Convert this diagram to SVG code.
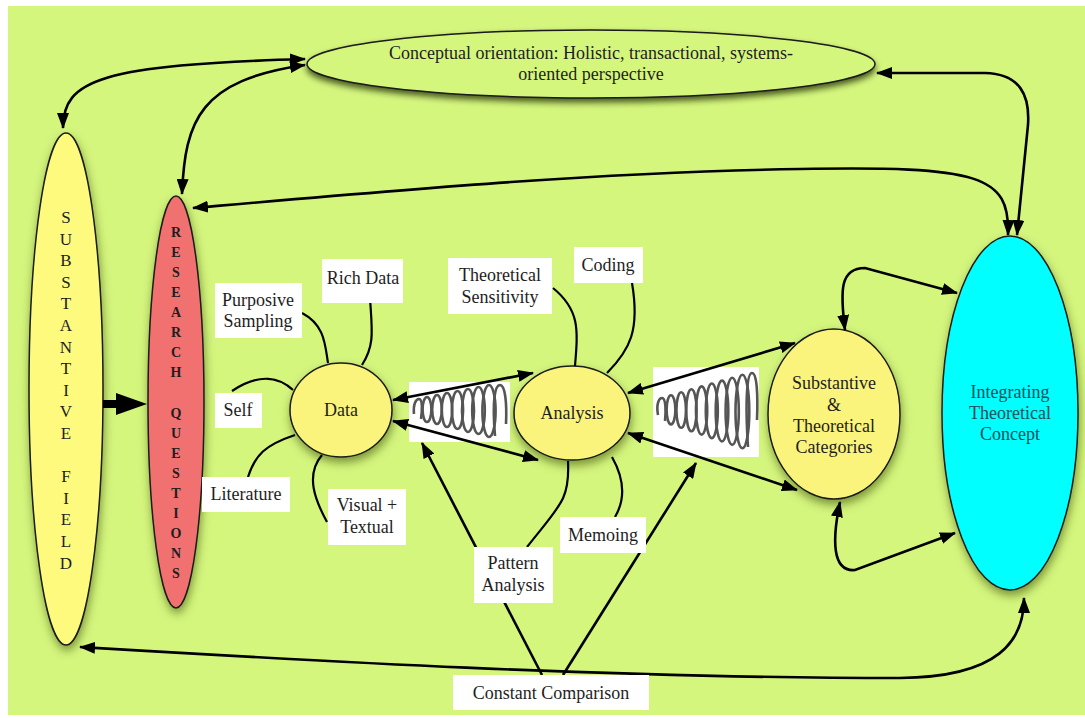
<svg xmlns="http://www.w3.org/2000/svg" width="1085" height="718" viewBox="0 0 1085 718">
  <defs>
    <style>
      .t { font-family: "Liberation Serif", "Times New Roman", serif; font-size: 18px; fill: #1e1e1e; text-anchor: middle; }
      .lbl { fill: #ffffff; stroke: none; }
      .node { stroke: #1a1a1a; stroke-width: 1.5; }
      .yel { fill: #fbf47b; }
      .con { fill: none; stroke: #000; stroke-width: 2.6; }
      .bi { marker-start: url(#ah); marker-end: url(#ah); }
      .one { marker-end: url(#ah); }
      .tie { fill: none; stroke: #000; stroke-width: 2.2; }
      .coil { fill: none; stroke: #555; stroke-width: 2.6; }
    </style>
    <marker id="ah" viewBox="0 0 16 12" refX="15" refY="6" markerWidth="16" markerHeight="12" markerUnits="userSpaceOnUse" orient="auto-start-reverse">
      <path d="M0,0 L16,6 L0,12 z" fill="#000"/>
    </marker>
    <filter id="sh" x="-30%" y="-30%" width="160%" height="170%">
      <feDropShadow dx="1" dy="5" stdDeviation="5" flood-color="#2e4400" flood-opacity="0.55"/>
    </filter>
    <filter id="shTop" x="-10%" y="-40%" width="120%" height="200%">
      <feDropShadow dx="0" dy="4" stdDeviation="3" flood-color="#1e2c00" flood-opacity="0.75"/>
    </filter>
  </defs>

  <!-- backdrop -->
  <rect x="0" y="0" width="1085" height="718" fill="#ffffff"/>
  <rect x="8" y="6" width="1077" height="709" fill="#d5f67d"/>

  <g font-family="'Liberation Serif', 'Times New Roman', serif">

  <!-- top orientation ellipse -->
  <g id="orientation">
    <ellipse cx="591" cy="64" rx="284" ry="34" fill="#d5f67d" class="node" filter="url(#shTop)"/>
    <text class="t" x="591" y="59">Conceptual orientation: Holistic, transactional, systems-</text>
    <text class="t" x="591" y="80">oriented perspective</text>
  </g>

  <!-- substantive field -->
  <g id="substantive-field">
    <ellipse cx="66" cy="389" rx="37" ry="256" fill="#fdfa7e" class="node" filter="url(#sh)"/>
    <text class="t" style="font-size:17px">
      <tspan x="66" y="223">S</tspan><tspan x="66" y="244.6">U</tspan><tspan x="66" y="266.2">B</tspan><tspan x="66" y="287.8">S</tspan><tspan x="66" y="309.4">T</tspan><tspan x="66" y="331">A</tspan><tspan x="66" y="352.6">N</tspan><tspan x="66" y="374.2">T</tspan><tspan x="66" y="395.8">I</tspan><tspan x="66" y="417.4">V</tspan><tspan x="66" y="439">E</tspan><tspan x="66" y="482.2">F</tspan><tspan x="66" y="503.8">I</tspan><tspan x="66" y="525.4">E</tspan><tspan x="66" y="547">L</tspan><tspan x="66" y="568.6">D</tspan>
    </text>
  </g>

  <!-- research questions -->
  <g id="research-questions">
    <ellipse cx="176" cy="402" rx="28" ry="206" fill="#f07170" class="node" filter="url(#sh)"/>
    <text class="t" style="font-size:14px;font-weight:bold">
      <tspan x="176" y="237">R</tspan><tspan x="176" y="257">E</tspan><tspan x="176" y="277">S</tspan><tspan x="176" y="297">E</tspan><tspan x="176" y="317">A</tspan><tspan x="176" y="337">R</tspan><tspan x="176" y="357">C</tspan><tspan x="176" y="377">H</tspan><tspan x="176" y="418">Q</tspan><tspan x="176" y="438">U</tspan><tspan x="176" y="458">E</tspan><tspan x="176" y="478">S</tspan><tspan x="176" y="498">T</tspan><tspan x="176" y="518">I</tspan><tspan x="176" y="538">O</tspan><tspan x="176" y="558">N</tspan><tspan x="176" y="578">S</tspan>
    </text>
  </g>

  <!-- data -->
  <g id="data">
    <ellipse cx="341" cy="410" rx="51" ry="47" class="node yel" filter="url(#sh)"/>
    <text class="t" x="341" y="416">Data</text>
  </g>

  <!-- analysis -->
  <g id="analysis">
    <ellipse cx="572" cy="413" rx="58" ry="47" class="node yel" filter="url(#sh)"/>
    <text class="t" x="572" y="419">Analysis</text>
  </g>

  <!-- substantive and theoretical categories -->
  <g id="categories">
    <ellipse cx="834" cy="414" rx="66" ry="85" class="node yel" filter="url(#sh)"/>
    <text class="t" x="834" y="389">Substantive</text>
    <text class="t" x="834" y="411">&amp;</text>
    <text class="t" x="834" y="432">Theoretical</text>
    <text class="t" x="834" y="453">Categories</text>
  </g>

  <!-- integrating theoretical concept -->
  <g id="integrating-concept">
    <ellipse cx="1010" cy="413" rx="68" ry="177" fill="#00ffff" class="node" filter="url(#sh)"/>
    <text class="t" x="1010" y="398" style="fill:#1b4d58">Integrating</text>
    <text class="t" x="1010" y="419" style="fill:#1b4d58">Theoretical</text>
    <text class="t" x="1010" y="440" style="fill:#1b4d58">Concept</text>
  </g>

  <!-- spiral between data and analysis -->
  <g id="spiral-left">
    <rect x="409" y="382" width="101" height="60" fill="#ffffff"/>
    <path class="coil" d="M414,414 C413,404 416,399 419,399 C423,399 422,412 421,419"/>
    <ellipse class="coil" cx="427" cy="409.5" rx="4.4" ry="12.5"/>
    <ellipse class="coil" cx="437" cy="409.5" rx="4.8" ry="14.5"/>
    <ellipse class="coil" cx="447" cy="410" rx="5.2" ry="17"/>
    <ellipse class="coil" cx="457.5" cy="410" rx="5.6" ry="19"/>
    <ellipse class="coil" cx="468" cy="410.5" rx="6" ry="21.5"/>
    <ellipse class="coil" cx="478.5" cy="410.5" rx="6.3" ry="23.5"/>
    <ellipse class="coil" cx="489" cy="411" rx="6.6" ry="26"/>
    <path class="coil" d="M495,436 C492,400 495,385 500,385 C505,385 507,402 506,424"/>
  </g>

  <!-- spiral between analysis and categories -->
  <g id="spiral-right">
    <rect x="653" y="367" width="106" height="90" fill="#ffffff"/>
    <path class="coil" d="M658,415 C656,404 659,398 662,398 C666,398 666,412 665,421"/>
    <ellipse class="coil" cx="671" cy="409.8" rx="4.4" ry="14.6"/>
    <ellipse class="coil" cx="681.2" cy="410" rx="4.8" ry="17.8"/>
    <ellipse class="coil" cx="691.4" cy="410.3" rx="5.2" ry="21"/>
    <ellipse class="coil" cx="701.6" cy="410.5" rx="5.6" ry="24.1"/>
    <ellipse class="coil" cx="711.8" cy="410.8" rx="6" ry="27.3"/>
    <ellipse class="coil" cx="722" cy="411" rx="6.3" ry="30.4"/>
    <ellipse class="coil" cx="732.2" cy="411.3" rx="6.6" ry="33.6"/>
    <ellipse class="coil" cx="742.4" cy="411.5" rx="6.9" ry="36.7"/>
    <path class="coil" d="M748,447 C745,400 747,373 752,373 C757,373 758,395 757,420"/>
  </g>

  <!-- connectors -->
  <g id="connectors">
    <path class="con bi" d="M63,128 C63,80 100,65 305,59"/>
    <path class="con bi" d="M182,194 C185,120 200,80 305,65"/>
    <path class="con bi" d="M193,208 C400,190 600,172 800,169 C980,166 1010,175 1008,235"/>
    <path class="con bi" d="M877,73 L985,73 C1020,74 1030,95 1028,125 L1017,235"/>
    <path class="con bi" d="M393,400 L533,373"/>
    <path class="con bi" d="M393,421 L538,460"/>
    <path class="con bi" d="M628,393 L795,343"/>
    <path class="con bi" d="M628,433 L797,490"/>
    <path class="con bi" d="M845,330 C840,290 840,268 865,268 L957,293"/>
    <path class="con bi" d="M840,502 C832,540 832,572 855,570 L955,533"/>
    <path class="con bi" d="M80,647 C300,660 600,678 900,678 C1000,677 1024,640 1024,598"/>
    <path class="con one" d="M542,675 L422,443"/>
    <path class="con one" d="M563,675 L696,463"/>
    <path d="M103,400 L116,400 L116,393 L147,404 L116,415 L116,408 L103,408 z" fill="#000"/>
    <!-- ties from the circles to their labels -->
    <path class="tie" d="M302,313 C325,325 325,345 328,363"/>
    <path class="tie" d="M370,298 C372,330 375,345 362,365"/>
    <path class="tie" d="M293,390 C280,378 260,372 232,391"/>
    <path class="tie" d="M295,435 C265,445 255,455 248,477"/>
    <path class="tie" d="M322,455 C305,475 315,500 327,522"/>
    <path class="tie" d="M553,288 C580,310 578,330 575,366"/>
    <path class="tie" d="M632,283 C640,330 630,350 607,373"/>
    <path class="tie" d="M568,461 C570,500 560,505 527,547"/>
    <path class="tie" d="M612,457 C625,480 625,500 615,517"/>
  </g>

  <!-- labels -->
  <g id="purposive-sampling">
    <rect class="lbl" x="215" y="283" width="87" height="55"/>
    <text class="t" x="258" y="306">Purposive</text>
    <text class="t" x="258" y="327">Sampling</text>
  </g>
  <g id="rich-data">
    <rect class="lbl" x="322" y="259" width="81" height="44"/>
    <text class="t" x="363" y="284">Rich Data</text>
  </g>
  <g id="self">
    <rect class="lbl" x="215" y="393" width="47" height="35"/>
    <text class="t" x="238" y="416">Self</text>
  </g>
  <g id="literature">
    <rect class="lbl" x="202" y="477" width="88" height="35"/>
    <text class="t" x="246" y="500">Literature</text>
  </g>
  <g id="visual-textual">
    <rect class="lbl" x="328" y="489" width="78" height="56"/>
    <text class="t" x="367" y="511">Visual +</text>
    <text class="t" x="367" y="533">Textual</text>
  </g>
  <g id="theoretical-sensitivity">
    <rect class="lbl" x="448" y="258" width="104" height="56"/>
    <text class="t" x="500" y="281">Theoretical</text>
    <text class="t" x="500" y="303">Sensitivity</text>
  </g>
  <g id="coding">
    <rect class="lbl" x="574" y="247" width="69" height="36"/>
    <text class="t" x="608" y="271">Coding</text>
  </g>
  <g id="pattern-analysis">
    <rect class="lbl" x="474" y="547" width="79" height="56"/>
    <text class="t" x="513" y="569">Pattern</text>
    <text class="t" x="513" y="591">Analysis</text>
  </g>
  <g id="memoing">
    <rect class="lbl" x="560" y="517" width="86" height="36"/>
    <text class="t" x="603" y="541">Memoing</text>
  </g>
  <g id="constant-comparison">
    <rect class="lbl" x="453" y="675" width="196" height="35"/>
    <text class="t" x="551" y="699">Constant Comparison</text>
  </g>

  </g>
</svg>
